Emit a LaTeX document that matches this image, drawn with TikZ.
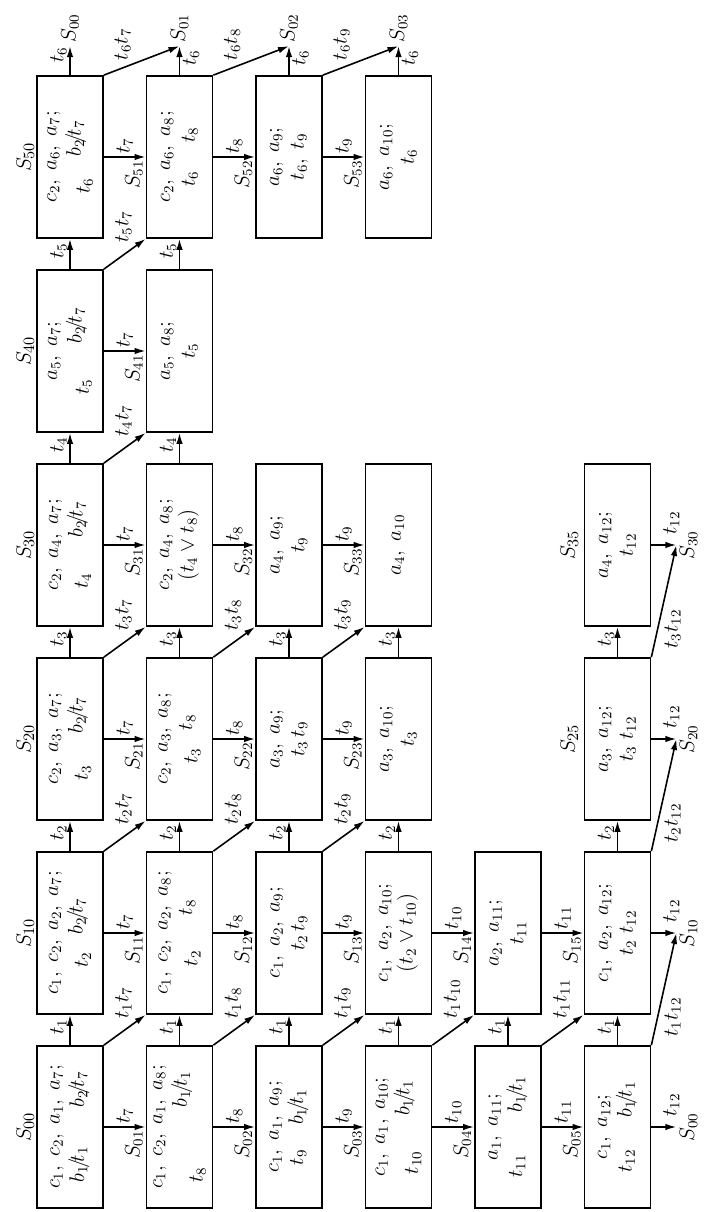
\documentclass[tikz,border=0pt]{standalone}
\usepackage{amsmath,amssymb}
\usepackage{tikz}
\usetikzlibrary{arrows.meta}

\tikzset{
  sbox/.style={draw, line width=1pt, minimum width=3.24cm, minimum height=1.32cm, align=center},
  arr/.style={line width=0.9pt, -{Latex[length=2.2mm, width=1.3mm]}},
  slab/.style={font=\fontsize{13}{15}\selectfont, inner sep=1pt},
  dlab/.style={pos=1, anchor=south west, xshift=-4pt, yshift=6pt},
}

\begin{document}
\begin{tikzpicture}[rotate=90, transform shape,
    every node/.style={font=\fontsize{12}{14}\selectfont, inner sep=1.5pt}]
  \useasboundingbox (0,0) rectangle (24.24,-14.1);

  % level 0
  \node[sbox] (s00) at (1.70,-1.40) {$c_1,\; c_2,\; a_1,\; a_7;$\\ \mbox{$b_1\!/\!t_1$\hspace{22pt}$b_2\!/\!t_7$}};
  \node[sbox] (s01) at (1.70,-3.59) {$c_1,\; c_2,\; a_1,\; a_8;$\\ \mbox{\raisebox{-9pt}{$t_8$}\hspace{34pt}$b_1\!/\!t_1$}};
  \node[sbox] (s02) at (1.70,-5.78) {$c_1,\; a_1,\; a_9;$\\ \mbox{$t_9$\hspace{14pt}$b_1\!/\!t_1$}};
  \node[sbox] (s03) at (1.70,-7.97) {$c_1,\; a_1,\; a_{10};$\\ \mbox{\raisebox{-5pt}{$t_{10}$}\hspace{20pt}$b_1\!/\!t_1$}};
  \node[sbox] (s04) at (1.70,-10.16) {$a_1,\; a_{11};$\\ \mbox{$t_{11}$\hspace{24pt}$b_1\!/\!t_1$}};
  \node[sbox] (s05) at (1.70,-12.35) {$c_1,\; a_{12};$\\ \mbox{$t_{12}$\hspace{18pt}$b_1\!/\!t_1$}};

  % level 1
  \node[sbox] (s10) at (5.58,-1.40) {$c_1,\; c_2,\; a_2,\; a_7;$\\ \mbox{\raisebox{-3pt}{$t_2$}\hspace{10pt}$b_2\!/\!t_7$}};
  \node[sbox] (s11) at (5.58,-3.59) {$c_1,\; c_2,\; a_2,\; a_8;$\\ \mbox{\raisebox{-3pt}{$t_2$}\hspace{20pt}$t_8$}};
  \node[sbox] (s12) at (5.58,-5.78) {$c_1,\; a_2,\; a_9;$\\ $t_2\, t_9$};
  \node[sbox] (s13) at (5.58,-7.97) {$c_1,\; a_2,\; a_{10};$\\ $(t_2 \vee t_{10})$};
  \node[sbox] (s14) at (5.58,-10.16) {$a_2,\; a_{11};$\\ $t_{11}$};
  \node[sbox] (s15) at (5.58,-12.35) {$c_1,\; a_2,\; a_{12};$\\ $t_2\; t_{12}$};

  % level 2
  \node[sbox] (s20) at (9.46,-1.40) {$c_2,\; a_3,\; a_7;$\\ \mbox{\raisebox{-3pt}{$t_3$}\hspace{18pt}$b_2\!/\!t_7$}};
  \node[sbox] (s21) at (9.46,-3.59) {$c_2,\; a_3,\; a_8;$\\ \mbox{\raisebox{-3pt}{$t_3$}\hspace{10pt}$t_8$}};
  \node[sbox] (s22) at (9.46,-5.78) {$a_3,\; a_9;$\\ $t_3\, t_9$};
  \node[sbox] (s23) at (9.46,-7.97) {$a_3,\; a_{10};$\\ $t_3$};
  \node[sbox] (s25) at (9.46,-12.35) {$a_3,\; a_{12};$\\ $t_3\; t_{12}$};

  % level 3
  \node[sbox] (s30) at (13.34,-1.40) {$c_2,\; a_4,\; a_7;$\\ \mbox{\raisebox{-3pt}{$t_4$}\hspace{20pt}$b_2\!/\!t_7$}};
  \node[sbox] (s31) at (13.34,-3.59) {$c_2,\; a_4,\; a_8;$\\ $(t_4 \vee t_8)$};
  \node[sbox] (s32) at (13.34,-5.78) {$a_4,\; a_9;$\\ $t_9$};
  \node[sbox] (s33) at (13.34,-7.97) {$a_4,\; a_{10}$};
  \node[sbox] (s35) at (13.34,-12.35) {$a_4,\; a_{12};$\\ $t_{12}$};

  % level 4
  \node[sbox] (s40) at (17.22,-1.40) {$a_5,\; a_7;$\\ \mbox{\raisebox{-4pt}{$t_5$}\hspace{20pt}$b_2\!/\!t_7$}};
  \node[sbox] (s41) at (17.22,-3.59) {$a_5,\; a_8;$\\ $t_5$};

  % level 5
  \node[sbox] (s50) at (21.10,-1.40) {$c_2,\; a_6,\; a_7;$\\ \mbox{\raisebox{-5pt}{$t_6$}\hspace{12pt}$b_2\!/\!t_7$}};
  \node[sbox] (s51) at (21.10,-3.59) {$c_2,\; a_6,\; a_8;$\\ \mbox{$t_6$\hspace{16pt}$t_8$}};
  \node[sbox] (s52) at (21.10,-5.78) {$a_6,\; a_9;$\\ $t_6,\; t_9$};
  \node[sbox] (s53) at (21.10,-7.97) {$a_6,\; a_{10};$\\ $t_6$};

  % state names over the first row and the last row
  \node[slab, above] (n00) at (s00.north) {$S_{00}$};
  \node[slab, above] (n10) at (s10.north) {$S_{10}$};
  \node[slab, above] (n20) at (s20.north) {$S_{20}$};
  \node[slab, above] (n30) at (s30.north) {$S_{30}$};
  \node[slab, above] (n40) at (s40.north) {$S_{40}$};
  \node[slab, above] (n50) at (s50.north) {$S_{50}$};
  \node[slab, above=2pt] (n25) at (s25.north) {$S_{25}$};
  \node[slab, above=2pt] (n35) at (s35.north) {$S_{35}$};

  % next level
  \draw[arr] (s00) -- node[pos=0.6, above] {$t_1$} (s10);
  \draw[arr] (s10) -- node[pos=0.6, above] {$t_2$} (s20);
  \draw[arr] (s20) -- node[pos=0.6, above] {$t_3$} (s30);
  \draw[arr] (s30) -- node[pos=0.6, above] {$t_4$} (s40);
  \draw[arr] (s40) -- node[pos=0.6, above] {$t_5$} (s50);
  \draw[arr] (s01) -- node[pos=0.6, above] {$t_1$} (s11);
  \draw[arr] (s11) -- node[pos=0.6, above] {$t_2$} (s21);
  \draw[arr] (s21) -- node[pos=0.6, above] {$t_3$} (s31);
  \draw[arr] (s31) -- node[pos=0.6, above] {$t_4$} (s41);
  \draw[arr] (s41) -- node[pos=0.6, above] {$t_5$} (s51);
  \draw[arr] (s02) -- node[pos=0.6, above] {$t_1$} (s12);
  \draw[arr] (s12) -- node[pos=0.6, above] {$t_2$} (s22);
  \draw[arr] (s22) -- node[pos=0.6, above] {$t_3$} (s32);
  \draw[arr] (s03) -- node[pos=0.6, above] {$t_1$} (s13);
  \draw[arr] (s13) -- node[pos=0.6, above] {$t_2$} (s23);
  \draw[arr] (s23) -- node[pos=0.6, above] {$t_3$} (s33);
  \draw[arr] (s04) -- node[pos=0.6, above] {$t_1$} (s14);
  \draw[arr] (s05) -- node[pos=0.6, above] {$t_1$} (s15);
  \draw[arr] (s15) -- node[pos=0.6, above] {$t_2$} (s25);
  \draw[arr] (s25) -- node[pos=0.6, above] {$t_3$} (s35);

  % next row
  \draw[arr] (s00) -- node[right] {$t_7$} node[pos=0.72, left] {$S_{01}$} (s01);
  \draw[arr] (s01) -- node[right] {$t_8$} node[pos=0.72, left] {$S_{02}$} (s02);
  \draw[arr] (s02) -- node[right] {$t_9$} node[pos=0.72, left] {$S_{03}$} (s03);
  \draw[arr] (s03) -- node[right] {$t_{10}$} node[pos=0.72, left] {$S_{04}$} (s04);
  \draw[arr] (s04) -- node[right] {$t_{11}$} node[pos=0.72, left] {$S_{05}$} (s05);
  \draw[arr] (s10) -- node[right] {$t_7$} node[pos=0.72, left] {$S_{11}$} (s11);
  \draw[arr] (s11) -- node[right] {$t_8$} node[pos=0.72, left] {$S_{12}$} (s12);
  \draw[arr] (s12) -- node[right] {$t_9$} node[pos=0.72, left] {$S_{13}$} (s13);
  \draw[arr] (s13) -- node[right] {$t_{10}$} node[pos=0.72, left] {$S_{14}$} (s14);
  \draw[arr] (s14) -- node[right] {$t_{11}$} node[pos=0.72, left] {$S_{15}$} (s15);
  \draw[arr] (s20) -- node[right] {$t_7$} node[pos=0.72, left] {$S_{21}$} (s21);
  \draw[arr] (s21) -- node[right] {$t_8$} node[pos=0.72, left] {$S_{22}$} (s22);
  \draw[arr] (s22) -- node[right] {$t_9$} node[pos=0.72, left] {$S_{23}$} (s23);
  \draw[arr] (s30) -- node[right] {$t_7$} node[pos=0.72, left] {$S_{31}$} (s31);
  \draw[arr] (s31) -- node[right] {$t_8$} node[pos=0.72, left] {$S_{32}$} (s32);
  \draw[arr] (s32) -- node[right] {$t_9$} node[pos=0.72, left] {$S_{33}$} (s33);
  \draw[arr] (s40) -- node[right] {$t_7$} node[pos=0.72, left] {$S_{41}$} (s41);
  \draw[arr] (s50) -- node[right] {$t_7$} node[pos=0.72, left] {$S_{51}$} (s51);
  \draw[arr] (s51) -- node[right] {$t_8$} node[pos=0.72, left] {$S_{52}$} (s52);
  \draw[arr] (s52) -- node[right] {$t_9$} node[pos=0.72, left] {$S_{53}$} (s53);

  % both at once
  \draw[arr] (s00.south east) -- node[dlab] {$t_1t_7$} (s11.north west);
  \draw[arr] (s10.south east) -- node[dlab] {$t_2t_7$} (s21.north west);
  \draw[arr] (s20.south east) -- node[dlab] {$t_3t_7$} (s31.north west);
  \draw[arr] (s30.south east) -- node[dlab] {$t_4t_7$} (s41.north west);
  \draw[arr] (s40.south east) -- node[dlab] {$t_5t_7$} (s51.north west);
  \draw[arr] (s01.south east) -- node[dlab] {$t_1t_8$} (s12.north west);
  \draw[arr] (s11.south east) -- node[dlab] {$t_2t_8$} (s22.north west);
  \draw[arr] (s21.south east) -- node[dlab] {$t_3t_8$} (s32.north west);
  \draw[arr] (s02.south east) -- node[dlab] {$t_1t_9$} (s13.north west);
  \draw[arr] (s12.south east) -- node[dlab] {$t_2t_9$} (s23.north west);
  \draw[arr] (s22.south east) -- node[dlab] {$t_3t_9$} (s33.north west);
  \draw[arr] (s03.south east) -- node[dlab] {$t_1t_{10}$} (s14.north west);
  \draw[arr] (s04.south east) -- node[dlab] {$t_1t_{11}$} (s15.north west);

  % back to the start, last level
  \draw[arr] (s50.east) -- ++(0.58,0) coordinate (o00) node[pos=0.7, above] {$t_6$} node[right] {$S_{00}$};
  \draw[arr] (s51.east) -- ++(0.58,0) coordinate (o01) node[pos=0.6, below] {$t_6$} node[right] {$S_{01}$};
  \draw[arr] (s52.east) -- ++(0.58,0) coordinate (o02) node[pos=0.6, below] {$t_6$} node[right] {$S_{02}$};
  \draw[arr] (s53.east) -- ++(0.58,0) coordinate (o03) node[pos=0.6, below] {$t_6$} node[right] {$S_{03}$};
  \draw[arr] (s50.south east) -- node[pos=0.4, above right] {$t_6t_7$} (o01);
  \draw[arr] (s51.south east) -- node[pos=0.4, above right] {$t_6t_8$} (o02);
  \draw[arr] (s52.south east) -- node[pos=0.4, above right] {$t_6t_9$} (o03);

  % back to the start, last row
  \draw[arr] (s05.south) -- ++(0,-0.5) coordinate (o05) node[pos=0.8, right=4pt] {$t_{12}$} node[below] {$S_{00}$};
  \draw[arr] (s15.south) -- ++(0,-0.5) coordinate (o15) node[pos=0.8, right=4pt] {$t_{12}$} node[below] {$S_{10}$};
  \draw[arr] (s25.south) -- ++(0,-0.5) coordinate (o25) node[pos=0.8, right=4pt] {$t_{12}$} node[below] {$S_{20}$};
  \draw[arr] (s35.south) -- ++(0,-0.5) coordinate (o35) node[pos=0.8, right=4pt] {$t_{12}$} node[below] {$S_{30}$};
  \draw[arr] (s05.south east) -- node[pos=0.25, below=2pt] {$t_1t_{12}$} (o15);
  \draw[arr] (s15.south east) -- node[pos=0.25, below=2pt] {$t_2t_{12}$} (o25);
  \draw[arr] (s25.south east) -- node[pos=0.25, below=2pt] {$t_3t_{12}$} (o35);
\end{tikzpicture}
\end{document}
